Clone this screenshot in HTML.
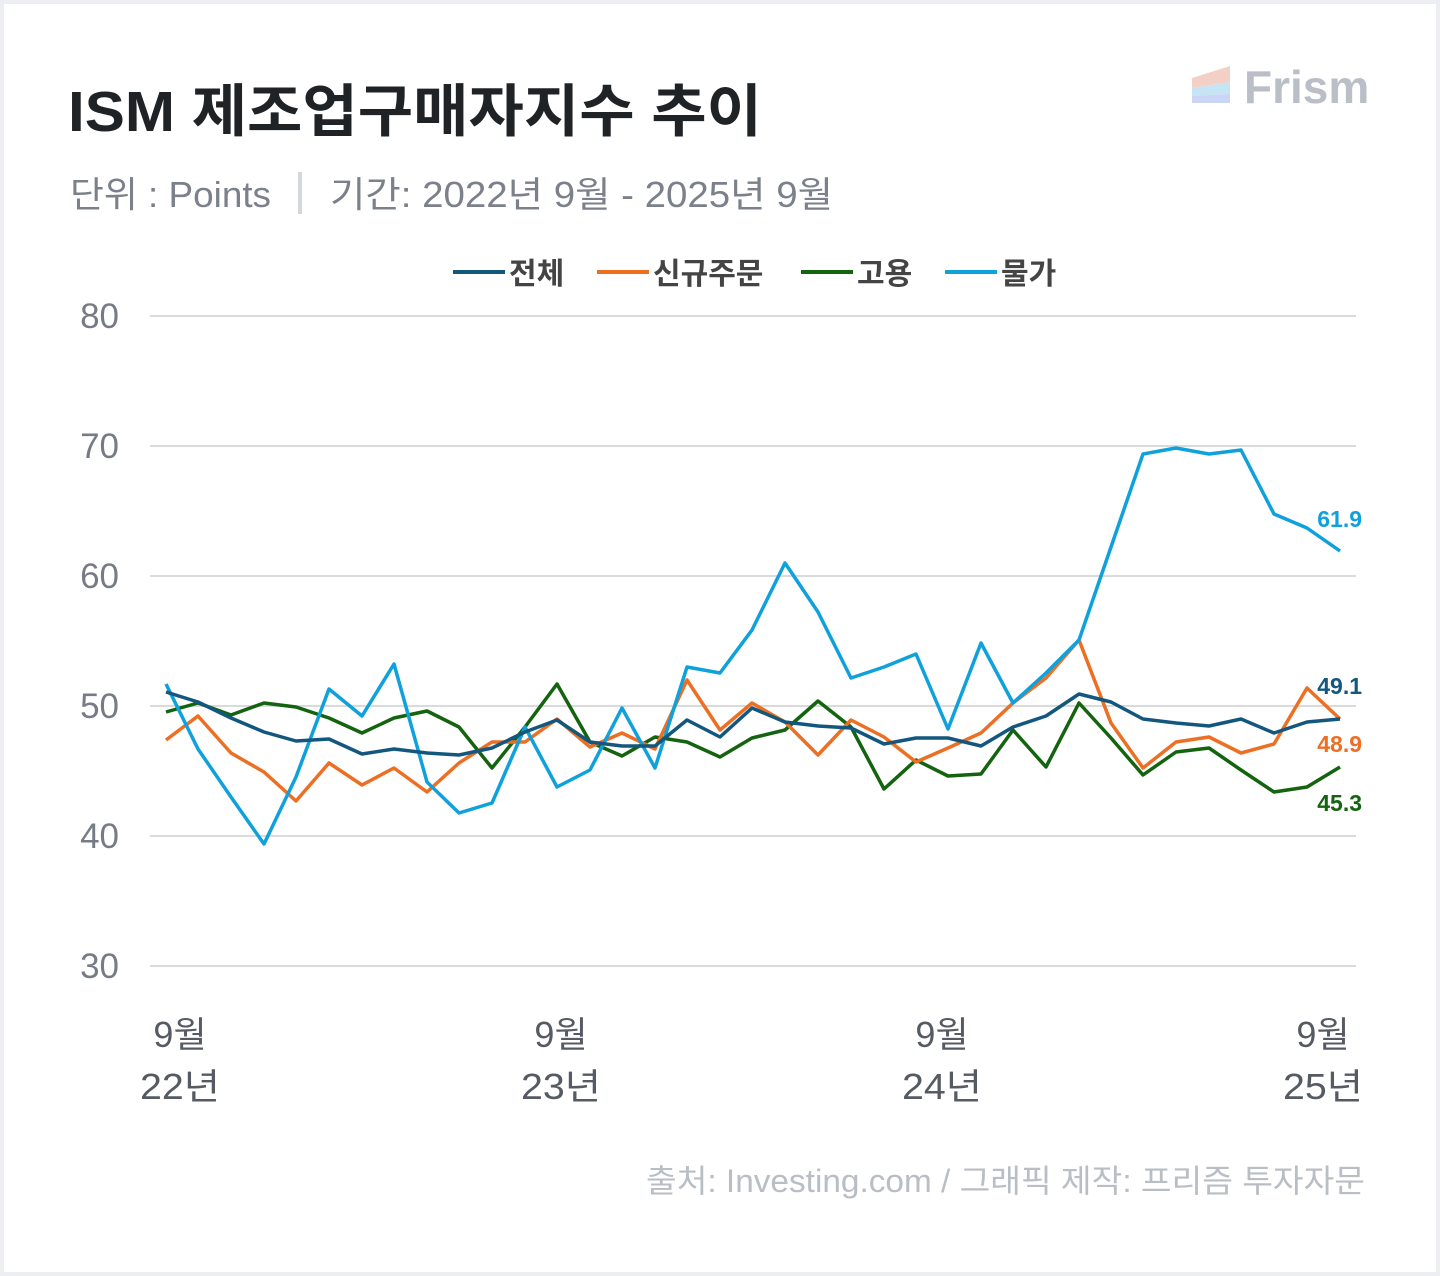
<!DOCTYPE html>
<html><head><meta charset="utf-8"><style>
html,body{margin:0;padding:0;background:#eceef1;}
.wrap{position:absolute;left:4px;top:4px;width:1432px;height:1268px;background:#fff;}
svg{position:absolute;left:0;top:0;}
text{font-family:"Liberation Sans","Noto Sans CJK KR",sans-serif;}
</style></head><body>
<div class="wrap"></div>
<svg width="1440" height="1276" viewBox="0 0 1440 1276">
<text x="68" y="131" font-size="57" font-weight="bold" fill="#1f2326" textLength="694" lengthAdjust="spacingAndGlyphs">ISM 제조업구매자지수 추이</text>
<text x="70" y="207" font-size="36" fill="#7b808b" textLength="201" lengthAdjust="spacingAndGlyphs">단위 : Points</text>
<rect x="298" y="172" width="4" height="42" fill="#d4d7dc"/>
<text x="330" y="207" font-size="36" fill="#7b808b" textLength="503" lengthAdjust="spacingAndGlyphs">기간: 2022년 9월 - 2025년 9월</text>
<g>
<polygon points="1192,78 1230,66 1230,82 1192,88" fill="#f4cfc6"/>
<polygon points="1192,88 1230,82 1230,94 1192,96" fill="#c7e4f5"/>
<polygon points="1192,96 1230,94 1230,103 1192,103" fill="#cbd5f6"/>
<text x="1244" y="103" font-size="46" font-weight="bold" fill="#b9bec7">Frism</text>
</g>
<g font-size="30" font-weight="bold" fill="#444">
<line x1="453" y1="272" x2="505" y2="272" stroke="#13577f" stroke-width="4"/><text x="509" y="284">전체</text>
<line x1="597" y1="272" x2="649" y2="272" stroke="#ec6f23" stroke-width="4"/><text x="653" y="284">신규주문</text>
<line x1="801" y1="272" x2="853" y2="272" stroke="#13630f" stroke-width="4"/><text x="857" y="284">고용</text>
<line x1="945" y1="272" x2="997" y2="272" stroke="#0fa1dc" stroke-width="4"/><text x="1001" y="284">물가</text>
</g>
<g stroke="#d9dadc" stroke-width="2">
<line x1="150" y1="316" x2="1356" y2="316"/><line x1="150" y1="446" x2="1356" y2="446"/>
<line x1="150" y1="576" x2="1356" y2="576"/><line x1="150" y1="706" x2="1356" y2="706"/>
<line x1="150" y1="836" x2="1356" y2="836"/><line x1="150" y1="966" x2="1356" y2="966"/>
</g>
<g font-size="35" fill="#767b86" text-anchor="end">
<text x="119" y="328">80</text><text x="119" y="458">70</text><text x="119" y="588">60</text>
<text x="119" y="718">50</text><text x="119" y="848">40</text><text x="119" y="978">30</text>
</g>
<g font-size="36" fill="#555a63" text-anchor="middle">
<text x="180" y="1047">9월</text><text x="180" y="1099" textLength="80" lengthAdjust="spacingAndGlyphs">22년</text>
<text x="561" y="1047">9월</text><text x="561" y="1099" textLength="80" lengthAdjust="spacingAndGlyphs">23년</text>
<text x="942" y="1047">9월</text><text x="942" y="1099" textLength="80" lengthAdjust="spacingAndGlyphs">24년</text>
<text x="1323" y="1047">9월</text><text x="1323" y="1099" textLength="80" lengthAdjust="spacingAndGlyphs">25년</text>
</g>
<g fill="none" stroke-width="3.5" stroke-linejoin="round">
<polyline stroke="#13630f" points="166,712 198,703 231,715 264,703 296,707 329,718 362,733 394,718 427,711 459,727 492,768 525,727 557,684 590,742 622,756 655,737 687,742 720,757 752,738 785,730 818,701 851,727 884,789 916,760 948,776 981,774 1013,730 1046,767 1079,703 1111,738 1143,775 1176,752 1209,748 1241,770 1274,792 1307,787 1340,767"/>
<polyline stroke="#ec6f23" points="166,740 198,716 231,753 264,772 296,801 329,763 362,785 394,768 427,792 459,763 492,742 525,742 557,719 590,747 622,733 655,749 687,680 720,730 752,703 785,722 818,755 851,720 884,737 916,762 948,748 981,733 1013,703 1046,678 1079,640 1111,723 1143,768 1176,742 1209,737 1241,753 1274,744 1307,688 1340,719"/>
<polyline stroke="#0fa1dc" points="166,684 198,749 231,797 264,844 296,777 329,689 362,716 394,664 427,782 459,813 492,803 525,727 557,787 590,770 622,708 655,768 687,667 720,673 752,630 785,563 818,612 851,678 884,667 916,654 948,729 981,643 1013,703 1046,673 1079,640 1111,547 1143,454 1176,448 1209,454 1241,450 1274,514 1307,528 1340,551"/>
<polyline stroke="#13577f" points="166,692 198,702 231,718 264,732 296,741 329,739 362,754 394,749 427,753 459,755 492,748 525,732 557,720 590,742 622,746 655,746 687,720 720,737 752,708 785,722 818,726 851,728 884,744 916,738 948,738 981,746 1013,727 1046,716 1079,694 1111,702 1143,719 1176,723 1209,726 1241,719 1274,733 1307,722 1340,719"/>
</g>
<g font-size="23" font-weight="bold" text-anchor="end">
<text x="1362" y="527" fill="#0fa1dc">61.9</text>
<text x="1362" y="694" fill="#13577f">49.1</text>
<text x="1362" y="752" fill="#ec6f23">48.9</text>
<text x="1362" y="811" fill="#13630f">45.3</text>
</g>
<text x="646" y="1192" font-size="32" fill="#b9bdc4" textLength="719" lengthAdjust="spacingAndGlyphs">출처: Investing.com / 그래픽 제작: 프리즘 투자자문</text>
</svg>
</body></html>
